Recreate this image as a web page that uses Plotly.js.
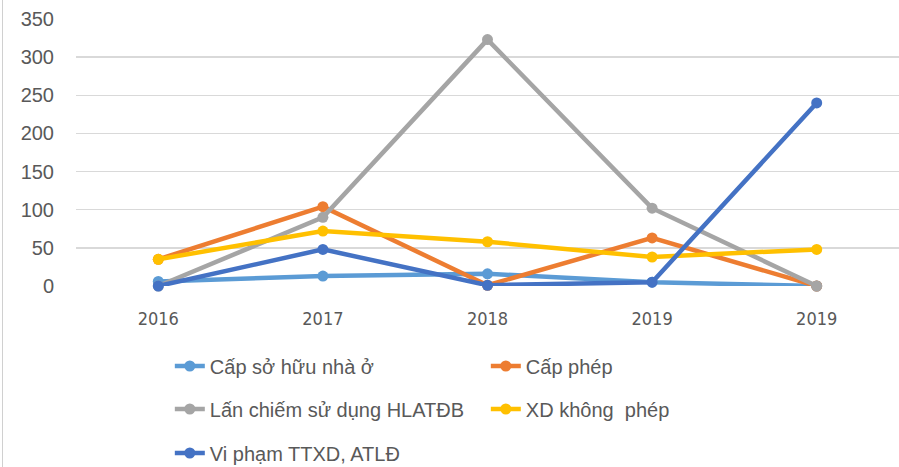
<!DOCTYPE html>
<html>
<head>
<meta charset="utf-8">
<script src="https://cdn.plot.ly/plotly-3.0.1.min.js"></script>
<style>
html,body{margin:0;padding:0;background:#fff;overflow:hidden;width:899px;height:467px;}
#chart{width:899px;height:520px;position:absolute;left:0;top:0;}
#edge{position:absolute;left:2px;top:0;width:1px;height:467px;background:#d0d0d0;}
</style>
</head>
<body>
<div id="chart"></div>
<div id="edge"></div>
<script>
var categories = ["2016", "2017", "2018", "2019", "2019"];
var seriesNames = ["Cấp sở hữu nhà ở", "Cấp phép", "Lấn chiếm sử dụng HLATĐB", "XD không  phép", "Vi phạm TTXD, ATLĐ"];
var capSoHuu = [6, 13, 16, 5, 0];
var capPhep = [35, 104, 1, 63, 0];
var lanChiem = [0, 90, 323, 102, 0];
var xdKhongPhep = [35, 72, 58, 38, 48];
var viPham = [0, 48, 1, 5, 240];
var yTicks = [0, 50, 100, 150, 200, 250, 300, 350];

var colors = ["#5B9BD5", "#ED7D31", "#A5A5A5", "#FFC000", "#4472C4"];
var values = [capSoHuu, capPhep, lanChiem, xdKhongPhep, viPham];
var legends = ["legend", "legend", "legend2", "legend2", "legend3"];
var idx = categories.map(function(c, i){ return i; });

var traces = values.map(function(v, k){
  return {
    type: "scatter", mode: "lines+markers",
    x: idx, y: v, name: seriesNames[k],
    legend: legends[k],
    line: {color: colors[k], width: 4.5},
    marker: {color: colors[k], size: 11},
    cliponaxis: false
  };
});

var legFont = {family: "Liberation Sans, Arial, sans-serif", size: 20, color: "#595959"};
function leg(y){
  return {orientation: "h", x: 0.114, xanchor: "left", y: y, yanchor: "middle",
          entrywidth: 271, entrywidthmode: "pixels", font: legFont,
          bgcolor: "rgba(0,0,0,0)", traceorder: "normal"};
}

var layout = {
  width: 899, height: 520,
  margin: {l: 76, r: 0, t: 19, b: 234},
  paper_bgcolor: "#fff", plot_bgcolor: "#fff",
  showlegend: true,
  xaxis: {
    range: [-0.5, 4.5],
    tickmode: "array", tickvals: idx, ticktext: categories,
    showgrid: false, zeroline: false, showline: false, ticks: "",
    ticklabelstandoff: 20,
    tickfont: {family: "Liberation Sans Narrow, DejaVu Sans Condensed, sans-serif", size: 18, color: "#595959"},
    fixedrange: true
  },
  yaxis: {
    range: [0, 350],
    tickmode: "array", tickvals: yTicks,
    showgrid: true, gridcolor: "#D9D9D9", gridwidth: 1.5,
    zeroline: false, showline: false, ticks: "",
    ticklabelstandoff: 21,
    tickfont: {family: "Liberation Sans, Arial, sans-serif", size: 20, color: "#595959"},
    fixedrange: true
  },
  legend: leg(-0.2996),
  legend2: leg(-0.4607),
  legend3: leg(-0.6255)
};

Plotly.newPlot("chart", traces, layout, {displayModeBar: false, staticPlot: true});
</script>
</body>
</html>
